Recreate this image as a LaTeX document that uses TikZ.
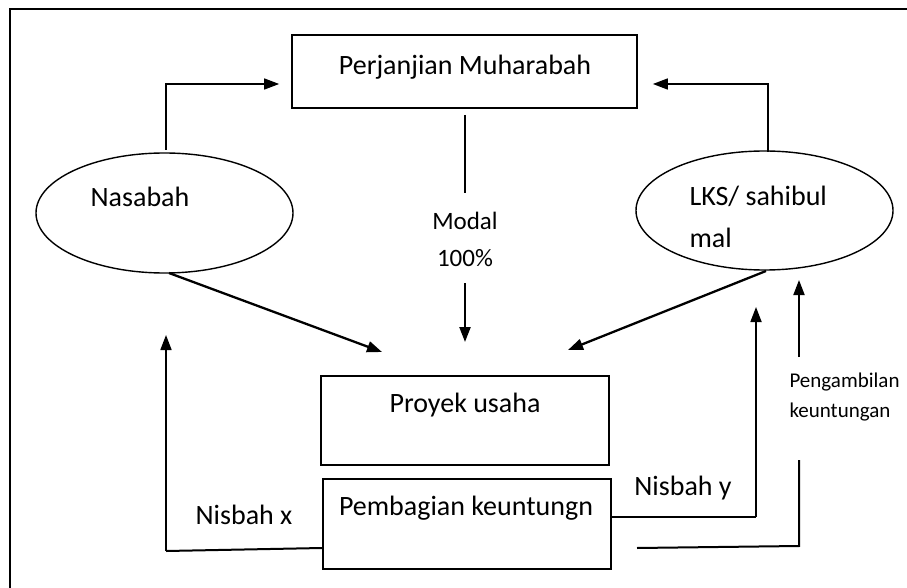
\documentclass[tikz,border=0pt]{standalone}
\usepackage{fontspec}
\setmainfont{Carlito}
\usetikzlibrary{arrows.meta,shapes.geometric}
\begin{document}
\begin{tikzpicture}[x=1pt,y=-1pt,
  box/.style={draw,line width=1.7pt,inner sep=0pt},
  oval/.style={draw,ellipse,line width=1.4pt,inner sep=0pt},
  big/.style={font=\fontsize{28}{33}\selectfont},
  mid/.style={font=\fontsize{25}{30}\selectfont},
  small/.style={font=\fontsize{21}{30}\selectfont},
  arr/.style={line width=2.3pt,-{Triangle[length=15pt,width=11pt]}},
  lnk/.style={line width=2pt}]
\useasboundingbox (0,0) rectangle (907,588);
\draw[line width=1.5pt] (10,600) -- (10,9) -- (915,9);
% boxes
\node[box,minimum width=345pt,minimum height=73pt] (perj) at (464.5,71.5) {};
\node[big] (perjt) at (465,67) {Perjanjian Muharabah};
\node[box,minimum width=288pt,minimum height=89pt] (proy) at (465,420.5) {};
\node[big] (proyt) at (465,405) {Proyek usaha};
\node[box,minimum width=288pt,minimum height=90pt] (pemb) at (467,524) {};
\node[big] (pembt) at (466,508) {Pembagian keuntungn};
% ellipses
\node[oval,minimum width=257pt,minimum height=120pt] (nas) at (164.5,213) {};
\node[big] (nast) at (140,197) {Nasabah};
\node[oval,minimum width=257pt,minimum height=119pt] (lks) at (764.5,210.5) {};
\node[big,anchor=west,align=left] (lkst) at (686,217) {LKS/ sahibul\\[9pt]mal};
% modal
\node[mid,align=center] (modal) at (465,239) {Modal\\[7pt]100\%};
\coordinate (m1) at (465,115);
\coordinate (m2) at (465,193);
\coordinate (m3) at (465,283);
\coordinate (m4) at (465,342);
\draw[lnk] (m1) -- (m2);
\draw[arr] (m3) -- (m4);
% top arrows
\coordinate (nt) at (166,150);
\coordinate (lt) at (768,152);
\draw[arr,line width=1.6pt] (nt) |- ([xshift=-12pt]perj.west |- 0,84);
\draw[arr,line width=1.6pt] (lt) |- ([xshift=15pt]perj.east |- 0,84);
% diagonal arrows
\coordinate (nb) at (169,273);
\coordinate (pa) at (382,352);
\coordinate (lb) at (766,271);
\coordinate (pb) at (568,350);
\draw[arr] (nb) -- (pa);
\draw[arr] (lb) -- (pb);
% Nisbah x
\node[big] (nx) at (244,515) {Nisbah x};
\coordinate (x1) at (166,551);
\coordinate (x2) at (166,335);
\draw[line width=2pt] (pemb.west |- 0,548) -- (x1);
\draw[arr,line width=1.7pt] (x1) -- (x2);
% Nisbah y
\node[big] (ny) at (683,488) {Nisbah y};
\coordinate (y1) at (756,517);
\coordinate (y2) at (756,307);
\draw[line width=2pt] (pemb.east |- 0,517) -- (y1);
\draw[arr,line width=1.7pt] (y1) -- (y2);
% Pengambilan
\node[small,anchor=west,align=left] (peng) at (786,397) {Pengambilan\\keuntungan};
\coordinate (k0) at (637,548);
\coordinate (k1) at (799,546);
\coordinate (k2) at (799,460);
\coordinate (k3) at (799,357);
\coordinate (k4) at (799,280);
\draw[line width=2pt] (k0) -- (k1) -- (k2);
\draw[arr,line width=1.9pt] (k3) -- (k4);
\end{tikzpicture}
\end{document}
